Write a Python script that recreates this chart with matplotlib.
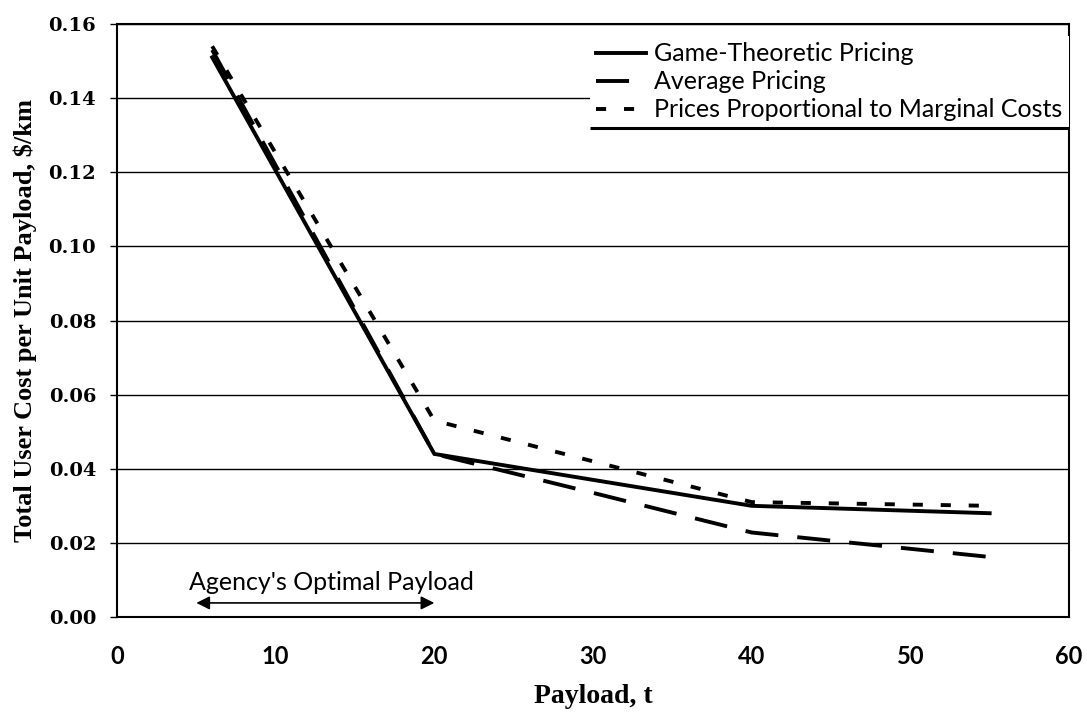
import matplotlib
matplotlib.use("Agg")
import matplotlib.pyplot as plt
from matplotlib.lines import Line2D

plt.rcParams['font.family'] = ['Liberation Serif', 'DejaVu Serif']

# Payload (t) and total user cost per unit payload ($/km)
game_x = [6, 20, 40, 55]
game_y = [0.151, 0.044, 0.030, 0.028]

avg_x = [6, 20, 30, 40, 55]
avg_y = [0.153, 0.044, 0.0335, 0.0228, 0.0162]

marg_x = [6, 20, 40, 55]
marg_y = [0.154, 0.053, 0.031, 0.030]

series_labels = ["Game-Theoretic Pricing", "Average Pricing",
                 "Prices Proportional to Marginal Costs"]

x_ticks = [0, 10, 20, 30, 40, 50, 60]
y_ticks = [0.00, 0.02, 0.04, 0.06, 0.08, 0.10, 0.12, 0.14, 0.16]

optimal_range = (5, 20)

SANS = ['Lato', 'DejaVu Sans']
W, H = 1087, 719
fig = plt.figure(figsize=(W / 100, H / 100), dpi=100)
ax = fig.add_axes([117 / W, 1 - 617 / H, 952 / W, 593 / H])

lw = 2.8
dash_long = (0, (8.5, 4.9))
dash_short = (0, (2.6, 4.6))
ax.plot(game_x, game_y, color="black", lw=lw, solid_joinstyle="miter",
        label=series_labels[0], zorder=4)
ax.plot(avg_x, avg_y, color="black", lw=lw, linestyle=dash_long,
        dash_capstyle="butt", label=series_labels[1], zorder=3)
ax.plot(marg_x, marg_y, color="black", lw=lw, linestyle=dash_short,
        dash_capstyle="butt", label=series_labels[2], zorder=3)

ax.set_xlim(0, 60)
ax.set_ylim(0, 0.16)
ax.set_xticks(x_ticks)
ax.set_yticks(y_ticks)
ax.set_xticklabels([str(v) for v in x_ticks], fontsize=17, fontweight="bold",
                   family=SANS)
ax.set_yticklabels([f"{v:.2f}" for v in y_ticks], fontsize=14, fontweight="bold",
                   family=['DejaVu Serif'])
ax.tick_params(axis="x", length=0, pad=20)
ax.tick_params(axis="y", length=5, width=1, direction="out", pad=10)

ax.grid(axis="y", color="black", lw=1.0)
ax.set_axisbelow(True)
for s in ax.spines.values():
    s.set_linewidth(1.5)

ax.set_xlabel("Payload, t", fontsize=20, fontweight="bold", labelpad=12)
ax.set_ylabel("Total User Cost per Unit Payload, $/km", fontsize=19,
              fontweight="bold", labelpad=8)

# Range of the agency's optimal payload
ax.annotate("", xy=(optimal_range[0], 0.0038), xytext=(optimal_range[1], 0.0038),
            arrowprops=dict(arrowstyle="<|-|>", color="black", lw=1.2,
                            mutation_scale=20, shrinkA=0, shrinkB=0))
ax.text(optimal_range[0] - 0.45, 0.0094, "Agency's Optimal Payload", fontsize=18,
        ha="left", va="center", family=SANS)

handles = [
    Line2D([], [], color="black", lw=lw),
    Line2D([], [], color="black", lw=lw, linestyle=(0, (8.5, 30))),
    Line2D([], [], color="black", lw=lw, linestyle=(0, (2.6, 4.6))),
]
leg = ax.legend(handles, series_labels, loc="upper right",
                prop={'family': SANS, 'size': 18},
                frameon=True, fancybox=False, borderaxespad=0.0,
                bbox_to_anchor=(1.0, 1.0 - 12 / 593),
                handlelength=2.0, handletextpad=0.35, labelspacing=0.2,
                borderpad=0.25)
leg.get_frame().set_edgecolor("none")
leg.get_frame().set_facecolor("white")
leg.get_frame().set_alpha(1)
leg.set_zorder(5)

# Heavy rule under the legend box
fig.canvas.draw()
bb = leg.get_window_extent().transformed(ax.transAxes.inverted())
ax.plot([bb.x0, 1.0], [bb.y0, bb.y0], transform=ax.transAxes, color="black",
        lw=2.2, clip_on=False, zorder=6, solid_capstyle="butt")

fig.savefig("out.png", dpi=100, facecolor="white")
